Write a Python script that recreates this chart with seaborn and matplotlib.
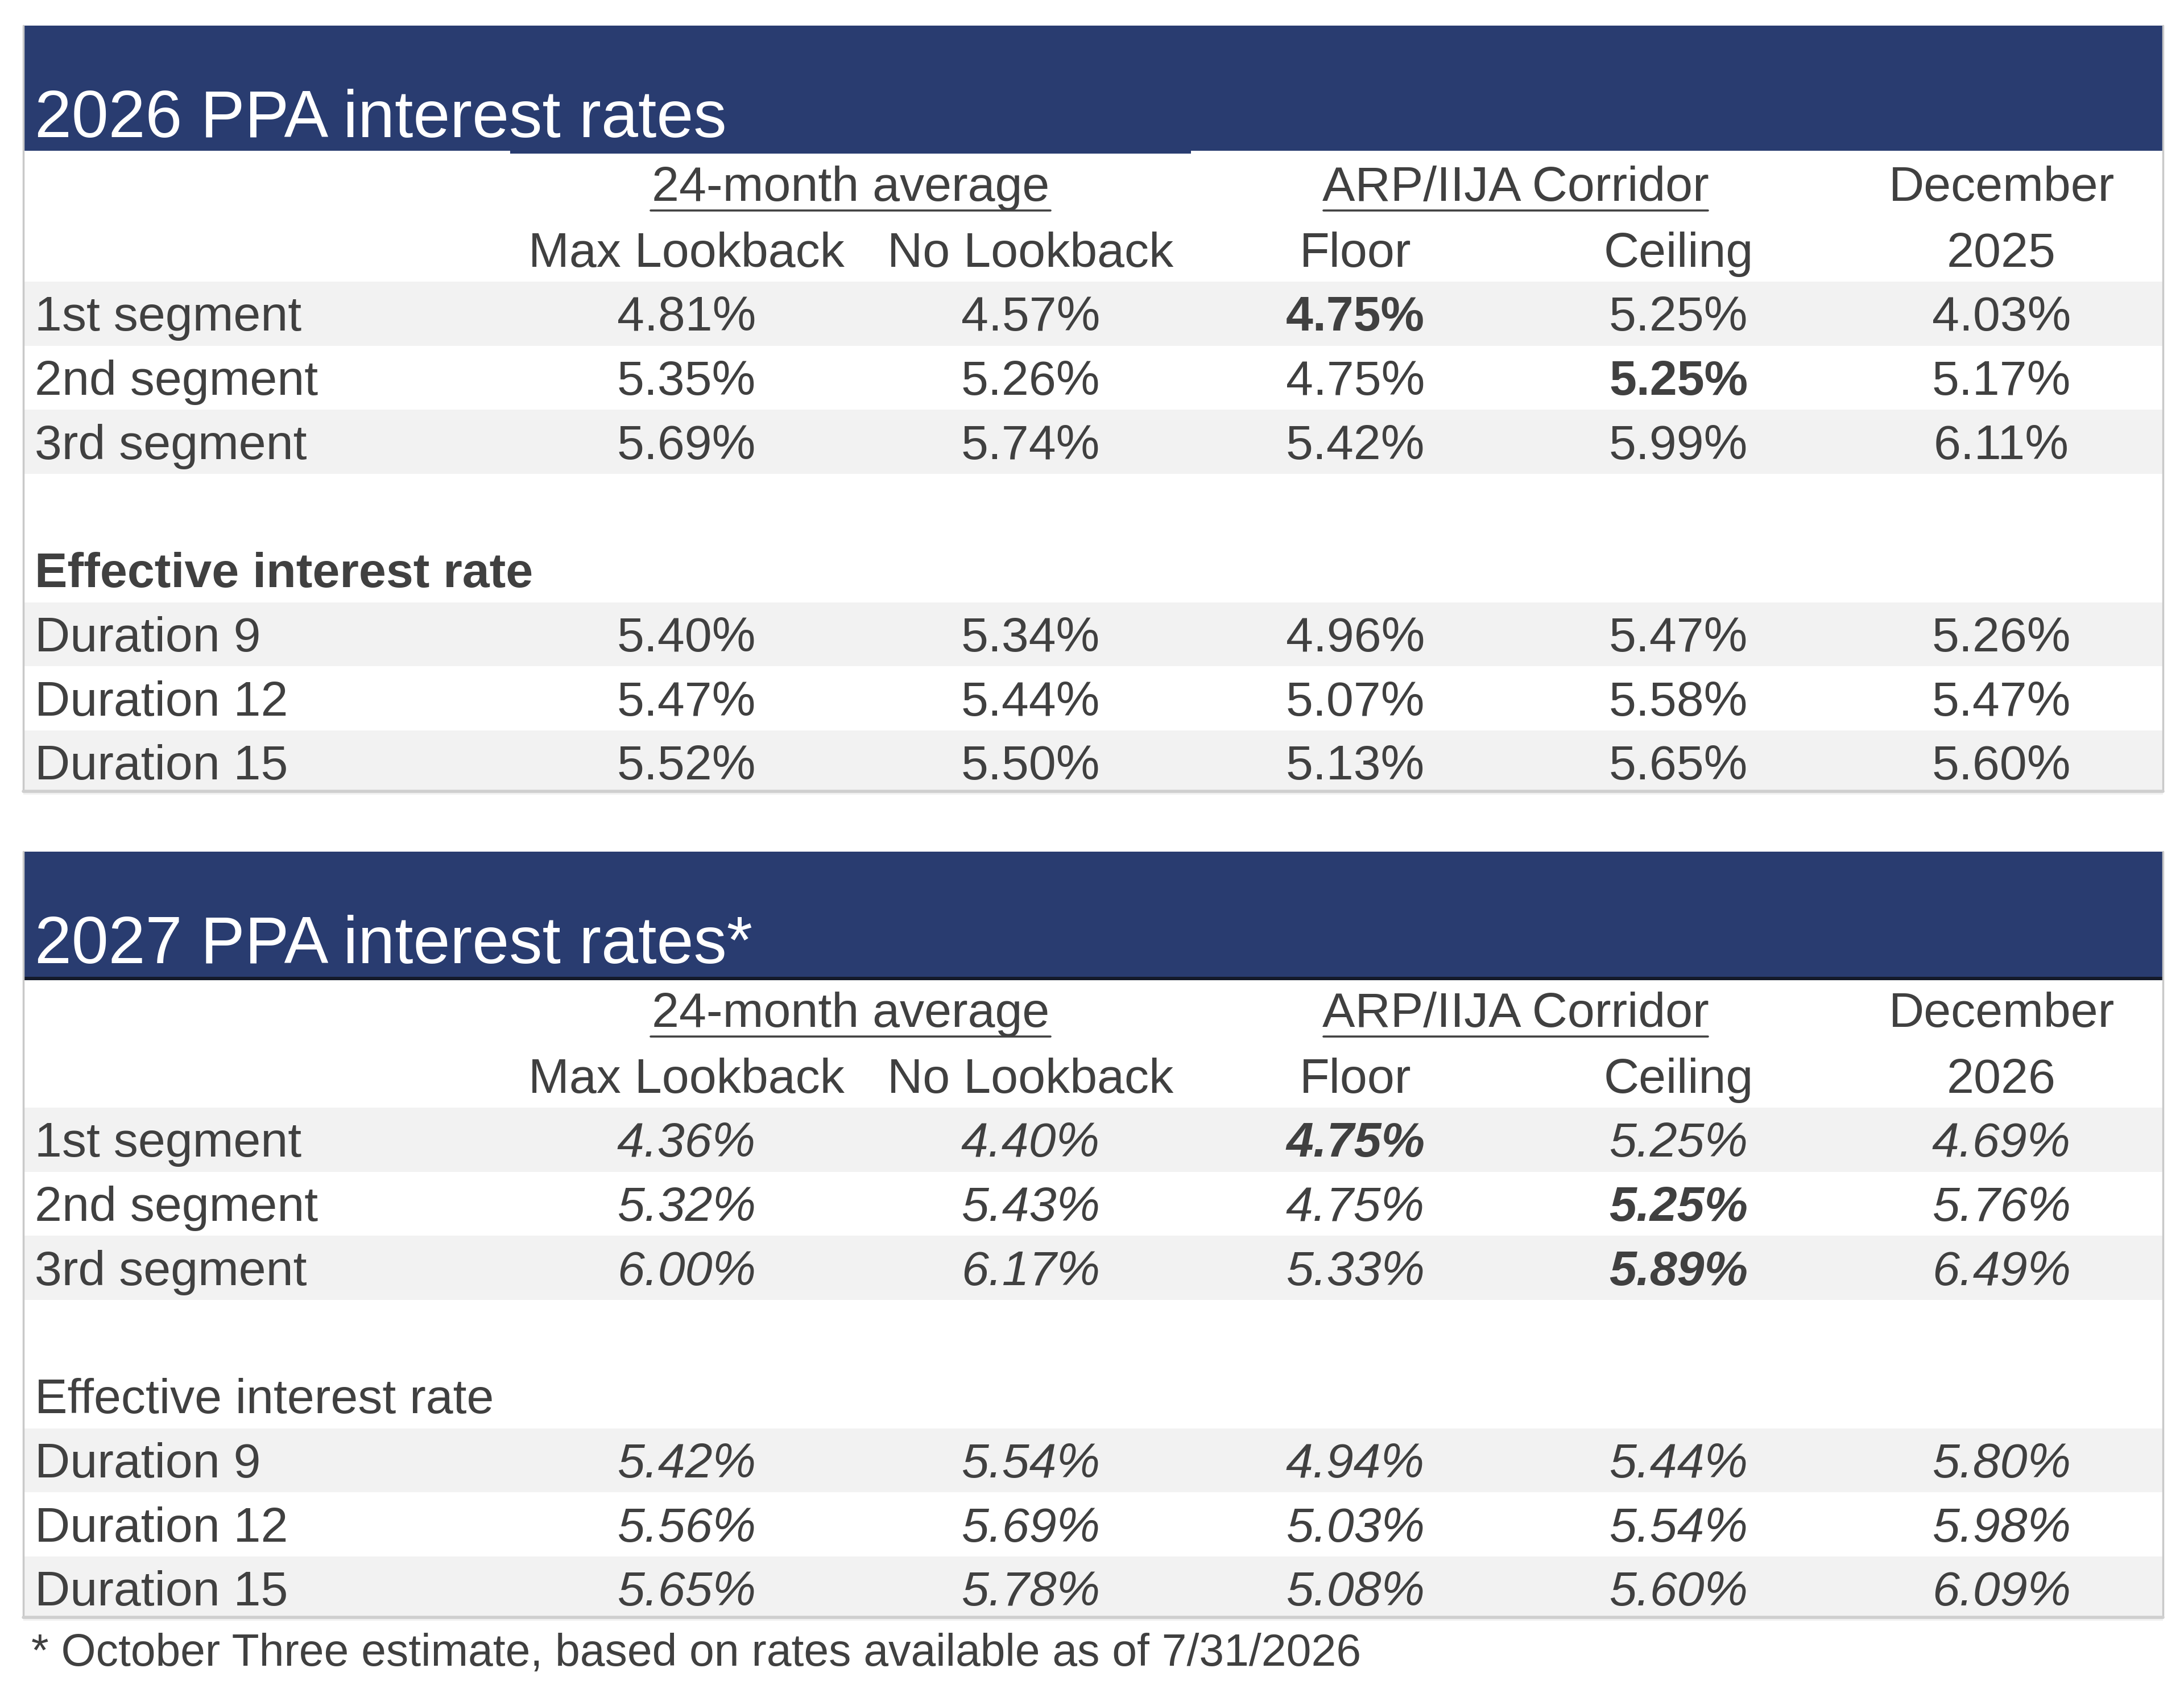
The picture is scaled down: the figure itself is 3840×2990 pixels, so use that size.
import matplotlib
matplotlib.use("Agg")
import matplotlib.pyplot as plt
from matplotlib.patches import Rectangle
import seaborn as sns

# ---------------- data ----------------
col_labels = ["Max Lookback", "No Lookback", "Floor", "Ceiling"]
group_labels = ["24-month average", "ARP/IIJA Corridor"]
segment_rows = ["1st segment", "2nd segment", "3rd segment"]
duration_rows = ["Duration 9", "Duration 12", "Duration 15"]
section_label = "Effective interest rate"

title_2026 = "2026 PPA interest rates"
dec_year_2026 = "2025"
seg_2026 = [[4.81, 4.57, 4.75, 5.25, 4.03],
            [5.35, 5.26, 4.75, 5.25, 5.17],
            [5.69, 5.74, 5.42, 5.99, 6.11]]
dur_2026 = [[5.40, 5.34, 4.96, 5.47, 5.26],
            [5.47, 5.44, 5.07, 5.58, 5.47],
            [5.52, 5.50, 5.13, 5.65, 5.60]]
bold_2026 = [(0, 2), (1, 3)]

title_2027 = "2027 PPA interest rates*"
dec_year_2027 = "2026"
seg_2027 = [[4.36, 4.40, 4.75, 5.25, 4.69],
            [5.32, 5.43, 4.75, 5.25, 5.76],
            [6.00, 6.17, 5.33, 5.89, 6.49]]
dur_2027 = [[5.42, 5.54, 4.94, 5.44, 5.80],
            [5.56, 5.69, 5.03, 5.54, 5.98],
            [5.65, 5.78, 5.08, 5.60, 6.09]]
bold_2027 = [(0, 2), (1, 3), (2, 3)]

footnote = "* October Three estimate, based on rates available as of 7/31/2026"

# ---------------- style ----------------
sns.set_theme(style="white")
plt.rcParams["font.family"] = ["Liberation Sans", "DejaVu Sans"]

W, H = 3840, 2990
fig = plt.figure(figsize=(W / 100, H / 100), dpi=100)
ax = fig.add_axes([0, 0, 1, 1])
ax.set_xlim(0, W)
ax.set_ylim(H, 0)
ax.axis("off")

BLUE = "#293c70"
TXT = "#404040"
SHADE = "#f2f2f2"
BORDER = "#c9c9c9"

BOX_L, BOX_R = 41, 3803
LABEL_X = 61
COL_X = [1207, 1812, 2383, 2951, 3519]
GROUP_SPAN = [(1144, 1847), (2327, 3003)]
FS = 62
FS_TITLE = 84
ROW_H = 112.7


def draw_table(top, title, dec_year, seg, dur, bolds, italic, section_bold, black_rule, step_rule):
    band_h = 220
    # blue header band
    ax.add_patch(Rectangle((BOX_L, top), BOX_R - BOX_L, band_h, color=BLUE, lw=0, zorder=2))
    if step_rule:
        ax.add_patch(Rectangle((897, top + band_h - 2), 2094 - 897, 7, color=BLUE, lw=0, zorder=2))
    if black_rule:
        ax.add_patch(Rectangle((BOX_L, top + band_h), BOX_R - BOX_L, 6, color="#141a2a", lw=0, zorder=3))
    ax.text(LABEL_X, top + 196, title, color="white", fontsize=FS_TITLE,
            va="baseline", ha="left", zorder=4)

    # row centres
    h1 = top + 281
    h2 = h1 + ROW_H
    seg_c = [h2 + ROW_H * (i + 1) for i in range(3)]
    sec_c = seg_c[-1] + 2 * ROW_H
    dur_c = [sec_c + ROW_H * (i + 1) for i in range(3)]
    bottom = dur_c[-1] + ROW_H / 2 - 6

    # shading
    for yc in [seg_c[0], seg_c[2], dur_c[0], dur_c[2]]:
        ax.add_patch(Rectangle((BOX_L, yc - ROW_H / 2), BOX_R - BOX_L, ROW_H,
                               color=SHADE, lw=0, zorder=1))

    # borders
    ax.plot([BOX_L, BOX_L], [top, bottom], color=BORDER, lw=2.5, zorder=3)
    ax.plot([BOX_R, BOX_R], [top, bottom], color=BORDER, lw=2.5, zorder=3)
    ax.plot([BOX_L, BOX_R], [bottom, bottom], color="#cfcfcf", lw=4, zorder=3)

    off = 30  # baseline offset from row centre
    # header rows
    for (x0, x1), g in zip(GROUP_SPAN, group_labels):
        ax.text((x0 + x1) / 2, h1 + off - 3, g, color=TXT, fontsize=FS,
                ha="center", va="baseline", zorder=4)
        ax.plot([x0, x1], [h1 + 44, h1 + 44], color=TXT, lw=2.6, zorder=4)
    ax.text(COL_X[4], h1 + off - 3, "December", color=TXT, fontsize=FS,
            ha="center", va="baseline", zorder=4)
    for x, c in zip(COL_X[:4], col_labels):
        ax.text(x, h2 + off, c, color=TXT, fontsize=FS, ha="center", va="baseline", zorder=4)
    ax.text(COL_X[4], h2 + off, dec_year, color=TXT, fontsize=FS,
            ha="center", va="baseline", zorder=4)

    style = "italic" if italic else "normal"
    for i, (lab, vals) in enumerate(zip(segment_rows, seg)):
        yc = seg_c[i]
        ax.text(LABEL_X, yc + off, lab, color=TXT, fontsize=FS, ha="left", va="baseline", zorder=4)
        for j, v in enumerate(vals):
            ax.text(COL_X[j], yc + off, f"{v:.2f}%", color=TXT, fontsize=FS,
                    ha="center", va="baseline", style=style,
                    weight="bold" if (i, j) in bolds else "normal", zorder=4)

    ax.text(LABEL_X, sec_c + off, section_label, color=TXT, fontsize=FS, ha="left",
            va="baseline", weight="bold" if section_bold else "normal", zorder=4)

    for i, (lab, vals) in enumerate(zip(duration_rows, dur)):
        yc = dur_c[i]
        ax.text(LABEL_X, yc + off, lab, color=TXT, fontsize=FS, ha="left", va="baseline", zorder=4)
        for j, v in enumerate(vals):
            ax.text(COL_X[j], yc + off, f"{v:.2f}%", color=TXT, fontsize=FS,
                    ha="center", va="baseline", style=style, zorder=4)
    return bottom


draw_table(45, title_2026, dec_year_2026, seg_2026, dur_2026, bold_2026,
           italic=False, section_bold=True, black_rule=False, step_rule=True)
b2 = draw_table(1497, title_2027, dec_year_2027, seg_2027, dur_2027, bold_2027,
                italic=True, section_bold=False, black_rule=True, step_rule=False)

ax.text(55, 2928, footnote, color=TXT, fontsize=56.6, ha="left", va="baseline")

fig.savefig("out.png", dpi=100, facecolor="white")
